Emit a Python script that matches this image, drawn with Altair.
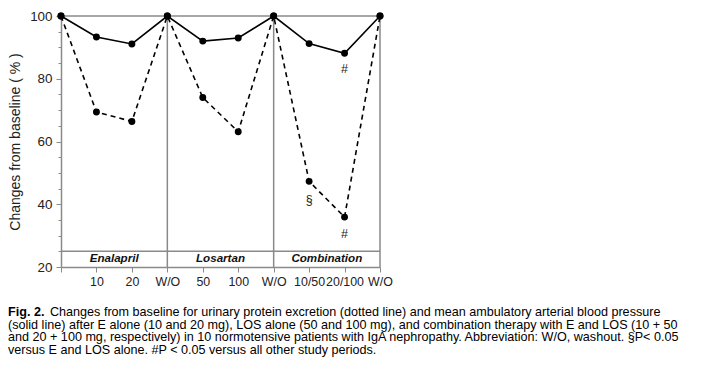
import json
import altair as alt
import pandas as pd

# ---- data ----
x_labels = ["", "10", "20", "W/O", "50", "100", "W/O", "10/50", "20/100", "W/O"]
bp_solid = [100, 93.3, 91.1, 100, 92.0, 93.0, 100, 91.2, 88.1, 100]
protein_dashed = [100, 69.4, 66.4, 100, 74.0, 63.1, 100, 47.3, 35.9, 100]

groups = ["Enalapril", "Losartan", "Combination"]
group_start = [0, 3, 6]
group_end = [3, 6, 9]
separators = [3, 6, 9]

ann_text = ["§", "#", "#"]
ann_x = [7, 8, 8]
ann_y = [41.3, 83.0, 30.5]

caption_bold = "Fig. 2."
caption_lines = [
    "Changes from baseline for urinary protein excretion (dotted line) and mean ambulatory arterial blood pressure",
    "(solid line) after E alone (10 and 20 mg), LOS alone (50 and 100 mg), and combination therapy with E and LOS (10 + 50",
    "and 20 + 100 mg, respectively) in 10 normotensive patients with IgA nephropathy. Abbreviation: W/O, washout. §P< 0.05",
    "versus E and LOS alone. #P < 0.05 versus all other study periods.",
]

idx = list(range(len(x_labels)))
df = pd.DataFrame({"i": idx, "bp": bp_solid, "prot": protein_dashed})

GRAY = "#8a8a8a"
FONT = "Liberation Sans"

W, H = 319, 251
xs = alt.Scale(domain=[0, 9], nice=False, zero=False)
ys = alt.Scale(domain=[20, 100], nice=False, zero=False)

label_expr = json.dumps(x_labels) + "[datum.value]"

x_axis = alt.Axis(
    values=idx, labelExpr=label_expr, title=None, grid=False,
    tickSize=5, tickColor=GRAY, domainColor=GRAY, domainWidth=1.5, tickWidth=1,
    labelFont=FONT, labelFontSize=12.4, labelColor="#222", labelPadding=3,
    labelOverlap=False, labelBound=False, labelFlush=False,
)
y_axis = alt.Axis(
    values=list(range(20, 101, 5)),
    labelExpr="datum.value % 20 === 0 ? datum.label : ''",
    tickSize={"condition": {"test": "datum.value % 20 === 0", "value": 5}, "value": 3},
    tickColor=GRAY, domainColor=GRAY, domainWidth=1.5, tickWidth=1, grid=False,
    labelFont=FONT, labelFontSize=13.4, labelColor="#222", labelPadding=4,
    labelOverlap=False, labelFlush=False,
    title="Changes from baseline ( % )", titleFont=FONT, titleFontSize=14,
    titleFontWeight="normal", titleColor="#222", titlePadding=7,
)


def X(field):
    return alt.X(field, scale=xs, axis=x_axis)


def Y(field):
    return alt.Y(field, scale=ys, axis=y_axis)


base = alt.Chart(df)

solid = base.mark_line(color="black", strokeWidth=1.6).encode(x=X("i:Q"), y=Y("bp:Q"))
dashed = base.mark_line(color="black", strokeWidth=1.6, strokeDash=[5, 4]).encode(
    x=X("i:Q"), y=Y("prot:Q")
)
pts_solid = base.mark_circle(color="black", size=48, opacity=1).encode(x=X("i:Q"), y=Y("bp:Q"))
pts_dashed = base.mark_circle(color="black", size=48, opacity=1).encode(x=X("i:Q"), y=Y("prot:Q"))

frame_df = pd.DataFrame({"x0": [0, 0], "x1": [9, 9], "y": [100, 25]})
hlines = alt.Chart(frame_df).mark_rule(color=GRAY, strokeWidth=1.5).encode(
    x=X("x0:Q"), x2="x1:Q", y=Y("y:Q")
)
sep_df = pd.DataFrame({"x": separators, "y0": [20] * 3, "y1": [100] * 3})
vlines = alt.Chart(sep_df).mark_rule(color=GRAY, strokeWidth=1.5).encode(
    x=X("x:Q"), y=Y("y0:Q"), y2="y1:Q"
)

grp_df = pd.DataFrame({
    "g": groups,
    "xc": [(a + b) / 2 for a, b in zip(group_start, group_end)],
    "yc": [22.5] * 3,
})
grp_text = alt.Chart(grp_df).mark_text(
    font=FONT, fontSize=11.6, fontWeight="bold", fontStyle="italic", color="#111"
).encode(x=X("xc:Q"), y=Y("yc:Q"), text="g:N")

ann_df = pd.DataFrame({"t": ann_text, "x": ann_x, "y": ann_y})
ann = alt.Chart(ann_df).mark_text(font=FONT, fontSize=12.5, color="#222").encode(
    x=X("x:Q"), y=Y("y:Q"), text="t:N"
)

layers = [solid, hlines, vlines, grp_text, dashed, pts_dashed, pts_solid, ann]

# caption (plot-area pixel offsets)
cap_y0 = 296
cap_dy = 12.5
CAP_SIZE = 12.6
layers.append(
    alt.Chart(pd.DataFrame({"t": [caption_bold]})).mark_text(
        font=FONT, fontSize=CAP_SIZE, fontWeight="bold", align="left", baseline="middle", color="black"
    ).encode(text="t:N", x=alt.value(-53), y=alt.value(cap_y0))
)
for k, line in enumerate(caption_lines):
    xo = -11 if k == 0 else -53
    layers.append(
        alt.Chart(pd.DataFrame({"t": [line]})).mark_text(
            font=FONT, fontSize=CAP_SIZE, align="left", baseline="middle", color="black"
        ).encode(text="t:N", x=alt.value(xo), y=alt.value(cap_y0 + k * cap_dy))
    )

chart = alt.layer(*layers).properties(
    width=W, height=H,
    padding={"left": 53, "top": 8, "right": 322, "bottom": 91},
    autosize=alt.AutoSizeParams(type="none"),
    background="white",
).configure_view(stroke=None).configure_axis(labelOverlap=False)

chart.save("out.html", embed_options={"renderer": "svg", "actions": False})
